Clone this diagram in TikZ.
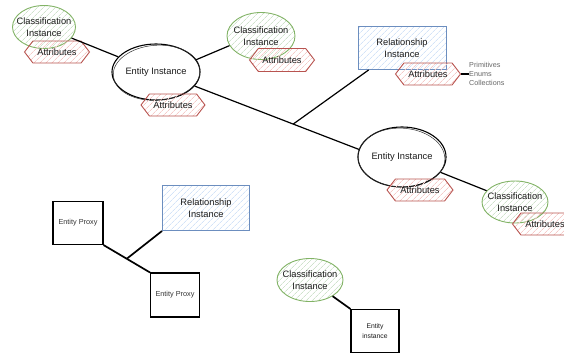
\documentclass[tikz,border=0pt]{standalone}
\usepackage{fontspec}
\setmainfont{Liberation Sans}
\usetikzlibrary{shapes.geometric,shapes.symbols,patterns.meta,calc}

\definecolor{clsLine}{HTML}{82B366}
\definecolor{clsHatch}{HTML}{CFE3CC}
\definecolor{attLine}{HTML}{B85450}
\definecolor{attHatch}{HTML}{F5CAC8}
\definecolor{relLine}{HTML}{6C8EBF}
\definecolor{relHatch}{HTML}{D3E3F8}
\definecolor{inkText}{HTML}{1A1A1A}

\tikzset{
  lbl/.style={font=\fontsize{9.3}{11.5}\selectfont, align=center, inner sep=0pt, text=inkText},
  hatch/.style={pattern={Lines[angle=45,distance=4pt,line width=0.7pt]}, pattern color=#1},
  classinst/.style={ellipse, draw=clsLine, line width=0.9pt, hatch=clsHatch, inner sep=0pt},
  attrs/.style={lbl, signal, signal to=west and east, signal pointer angle=105,
    draw=attLine, line width=0.9pt, hatch=attHatch, minimum width=65pt, minimum height=22pt},
  relinst/.style={lbl, rectangle, draw=relLine, line width=0.9pt, hatch=relHatch,
    minimum width=88pt, minimum height=43pt},
  entinst/.style={ellipse, draw=black, line width=1.1pt, inner sep=0pt},
  sketchstroke/.style={draw=black!80, line width=0.5pt},
  proxy/.style={rectangle, draw=black, line width=1.1pt, inner sep=0pt,
    font=\fontsize{7.3}{9}\selectfont, text=black!80, align=center},
  link/.style={draw=black, line width=1.2pt},
  heavylink/.style={draw=black, line width=1.7pt},
}

\begin{document}
\begin{tikzpicture}[x=1pt,y=-1pt]
\useasboundingbox (0,0) rectangle (564,354);

% upper left: entity with two classifications
\node[classinst, minimum width=63pt, minimum height=43pt,
      label={[lbl]center:Classification\\Instance}] (cTL) at (44,27) {};
\node[attrs] (aTL) at (57,52) {Attributes};

\node[entinst, minimum width=88pt, minimum height=56pt,
      label={[lbl]center:Entity Instance}] (eTop) at (156,72) {};
\draw[sketchstroke, rotate around={4:(eTop.center)}]
  ([shift={(0.6,0.8)}]eTop.center) ellipse [x radius=43.5pt, y radius=27.5pt];
\node[attrs, minimum width=64pt] (aTop) at (173,105) {Attributes};

\node[classinst, minimum width=68pt, minimum height=47pt,
      label={[lbl]center:Classification\\Instance}] (cTM) at (261,36) {};
\node[attrs, minimum height=23pt] (aTM) at (282,60) {Attributes};

% relationship between the two entities
\node[relinst] (rTop) at (402,48) {Relationship\\Instance};
\node[attrs] (aRel) at (428,74) {Attributes};
\node[anchor=west, inner sep=0pt, align=left, text=black!60,
      font=\fontsize{7.2}{8.7}\selectfont] (notes) at (469,74) {Primitives\\Enums\\Collections};

% right: second entity with its classification
\node[entinst, minimum width=88pt, minimum height=60pt,
      label={[lbl]center:Entity Instance}] (eRight) at (402,157) {};
\draw[sketchstroke, rotate around={-3:(eRight.center)}]
  ([shift={(-0.6,0.7)}]eRight.center) ellipse [x radius=43.5pt, y radius=29.5pt];
\node[attrs, minimum width=66pt] (aRight) at (420,190) {Attributes};

\node[classinst, minimum width=66pt, minimum height=42pt,
      label={[lbl]center:Classification\\Instance}] (cBR) at (515,202) {};
\node[attrs] (aBR) at (545,224) {Attributes};

% lower left: relationship between entity proxies
\node[proxy, minimum width=50pt, minimum height=43pt] (pTop) at (78,223) {Entity Proxy};
\node[relinst, minimum width=87pt, minimum height=45pt] (rBot) at (206,208) {Relationship\\Instance};
\node[proxy, minimum width=49pt, minimum height=44pt] (pBot) at (175,295) {Entity Proxy};

% lower middle: classification of an entity
\node[classinst, minimum width=66pt, minimum height=43pt,
      label={[lbl]center:Classification\\Instance}] (cBot) at (310,280) {};
\node[proxy, minimum width=48pt, minimum height=43pt, font=\fontsize{6.8}{9.5}\selectfont,
      text=black!90] (eBox) at (375,331) {Entity\\instance};

% connectors
\draw[link] (cTL) -- (eTop);
\draw[link] (eTop.17) -- (cTM.197);
\draw[link] (eTop.-20) -- (eRight.170);
\coordinate (jTop) at ($(eTop.-20)!0.6!(eRight.170)$);
\coordinate (rTopFoot) at ($(rTop.south west)!0.125!(rTop.south east)$);
\draw[link] (rTopFoot) -- (jTop);
\draw[link] (aRel.east) -- (notes.west);
\draw[link] (eRight) -- (cBR);

\draw[heavylink] (pTop.south east) -- (pBot.north west);
\coordinate (jBot) at ($(pTop.south east)!0.5!(pBot.north west)$);
\draw[heavylink] (rBot.south west) -- (jBot);

\draw[heavylink] (cBot) -- (eBox.north west);
\end{tikzpicture}
\end{document}
